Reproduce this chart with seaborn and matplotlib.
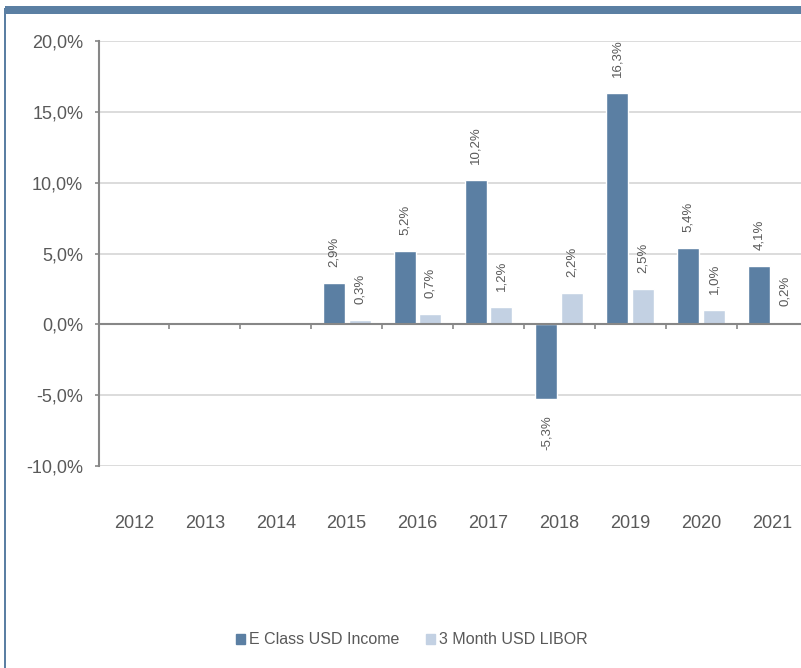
import matplotlib
matplotlib.use("Agg")
import matplotlib.pyplot as plt
from matplotlib.patches import Rectangle
from matplotlib.ticker import FuncFormatter
import seaborn as sns
import pandas as pd
import numpy as np

years = ["2012", "2013", "2014", "2015", "2016", "2017", "2018", "2019", "2020", "2021"]
series_names = ["E Class USD Income", "3 Month USD LIBOR"]
e_class = [None, None, None, 2.9, 5.2, 10.2, -5.3, 16.3, 5.4, 4.1]
libor = [None, None, None, 0.3, 0.7, 1.2, 2.2, 2.5, 1.0, 0.2]
y_ticks = [-10, -5, 0, 5, 10, 15, 20]

DARK = "#5B7FA3"
LIGHT = "#C3D1E3"
TXT = "#595959"
AXC = "#878787"
GRID = "#D9D9D9"

rows = []
for name, vals in zip(series_names, [e_class, libor]):
    for y, v in zip(years, vals):
        if v is not None:
            rows.append({"year": y, "series": name, "value": v})
df = pd.DataFrame(rows)

sns.set_theme(style="white")
plt.rcParams["font.family"] = ["Liberation Sans", "DejaVu Sans"]

fig = plt.figure(figsize=(8.01, 6.68), dpi=100)
W, H = 801, 668
ax = fig.add_axes([98.5 / W, (H - 466) / H, 709 / W, 425 / H])

sns.barplot(data=df, x="year", y="value", hue="series", order=years,
            hue_order=series_names, palette=[DARK, LIGHT], saturation=1,
            width=0.73, gap=0.15, errorbar=None, ax=ax, legend=False, zorder=2)

ax.set_xlim(-0.5, len(years) - 0.5)
ax.set_ylim(y_ticks[0], y_ticks[-1])
ax.set_yticks(y_ticks)
ax.yaxis.set_major_formatter(FuncFormatter(lambda v, p: f"{v:.1f}".replace(".", ",") + "%"))
for t in y_ticks:
    if t != 0:
        ax.axhline(t, color=GRID, lw=1.3, zorder=0)
ax.axhline(0, color=AXC, lw=1.5, zorder=3)

for s in ["top", "right", "bottom"]:
    ax.spines[s].set_visible(False)
ax.spines["left"].set_color(AXC)
ax.spines["left"].set_linewidth(1.5)
ax.tick_params(axis="y", direction="out", length=3, width=1.2, color=AXC,
               labelsize=13, labelcolor=TXT, pad=8, left=True)
ax.tick_params(axis="x", length=0, labelsize=13, labelcolor=TXT, pad=35)
ax.set_xlabel("")
ax.set_ylabel("")

# category boundary tick marks on the zero line
ax.vlines(np.arange(len(years) - 1) + 0.5, 0, -0.3, color=AXC, lw=1.2, zorder=3)

for cont in ax.containers:
    labels = [f"{b.get_height():.1f}".replace(".", ",") + "%" for b in cont]
    ax.bar_label(cont, labels=labels, rotation=90, padding=11.5, fontsize=9.5, color=TXT)

handles = [Rectangle((0, 0), 1, 1, color=DARK), Rectangle((0, 0), 1, 1, color=LIGHT)]
fig.legend(handles, series_names, loc="center", bbox_to_anchor=(412 / W, (H - 640) / H),
           ncol=2, frameon=False, fontsize=11.5, labelcolor=TXT,
           handlelength=0.55, handleheight=0.55, handletextpad=0.25, columnspacing=1.7)

# frame
fig.add_artist(Rectangle((5 / W, (H - 14) / H), 1, 8 / H, transform=fig.transFigure,
                         color=DARK, lw=0))
fig.add_artist(Rectangle((4 / W, 0), 2 / W, (H - 8) / H, transform=fig.transFigure,
                         color=DARK, lw=0))

fig.savefig("out.png", dpi=100)
